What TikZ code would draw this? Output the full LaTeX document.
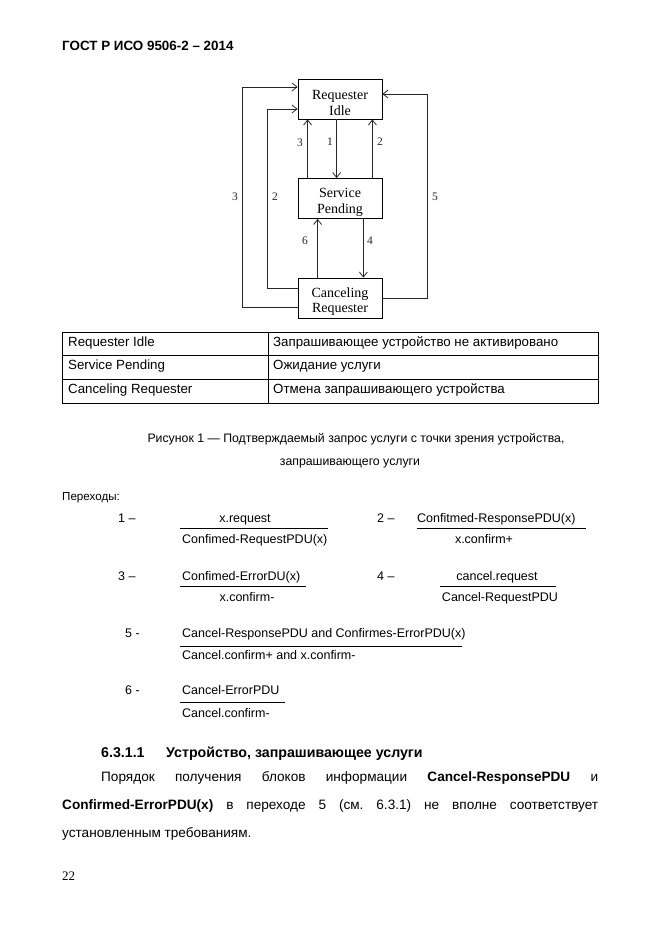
\documentclass[tikz,border=0pt]{standalone}
\usepackage{fontspec}
\setmainfont{Liberation Sans}
\newfontfamily\serifff{Liberation Serif}
\usetikzlibrary{arrows.meta}
\frenchspacing
\begin{document}
\begin{tikzpicture}[x=1pt,y=-1pt,
  txt/.style={inner sep=0, anchor=base west, font=\fontsize{12.5}{15}\selectfont},
  ctxt/.style={inner sep=0, anchor=base, font=\fontsize{12.5}{15}\selectfont},
  tbl/.style={txt, font=\fontsize{13.3}{15}\selectfont},
  box/.style={draw, line width=0.8pt, minimum width=84pt, minimum height=40pt, font=\serifff\fontsize{14}{15.5}\selectfont, align=center, inner sep=0},
  lbl/.style={font=\serifff\fontsize{11.5}{13}\selectfont, inner sep=0, text=black!85},
  arr/.style={-{Straight Barb[length=5pt,width=8pt]}, line width=0.8pt, draw=black!85},
  rule/.style={line width=0.8pt},
  fr/.style={line width=0.9pt}
]
\useasboundingbox (0,0) rectangle (662,935);
% header
\node[txt, font=\bfseries\fontsize{13.4}{15}\selectfont] (hdr) at (62,50.5) {ГОСТ Р ИСО 9506-2 – 2014};
% diagram
\node[box] (ri) at (340,99) {\rule{0pt}{17pt}Requester\\Idle};
\node[box] (sp) at (340,198.5) {\rule{0pt}{17pt}Service\\Pending};
\node[box] (cr) at (340,298) {\rule{0pt}{17pt}Canceling\\Requester};
\draw[arr] ([xshift=39pt]ri.south west) -- ([xshift=39pt]sp.north west);
\draw[arr] ([xshift=10pt]sp.north west) -- ([xshift=10pt]ri.south west);
\draw[arr] ([xshift=-10pt]sp.north east) -- ([xshift=-10pt]ri.south east);
\draw[arr] ([xshift=20pt]cr.north west) -- ([xshift=20pt]sp.south west);
\draw[arr] ([xshift=-19pt]sp.south east) -- ([xshift=-19pt]cr.north east);
\draw[arr] ([yshift=-9pt]cr.west) -- ++(-55,0) |- ([yshift=12pt]ri.west);
\draw[arr] ([yshift=10pt]cr.west) -- ++(-30,0) |- ([yshift=-10pt]ri.west);
\draw[arr] (cr.east) -- ++(45,0) |- ([yshift=5pt]ri.east);
\node[lbl] (l1) at (330,142) {1};
\node[lbl] (l3a) at (300,143) {3};
\node[lbl] (l2a) at (380,142) {2};
\node[lbl] (l3b) at (235,196.5) {3};
\node[lbl] (l2b) at (275,196.5) {2};
\node[lbl] (l5) at (435,196.5) {5};
\node[lbl] (l6) at (305,240.5) {6};
\node[lbl] (l4) at (370,240.5) {4};
% table
\draw[rule] (62,332) rectangle (598,403);
\draw[rule] (62,355) -- (598,355);
\draw[rule] (62,379) -- (598,379);
\draw[rule] (268,332) -- (268,403);
\node[tbl] (t11) at (68,346.5) {Requester Idle};
\node[tbl] (t21) at (68,369.5) {Service Pending};
\node[tbl] (t31) at (68,393.5) {Canceling Requester};
\node[tbl] (t12) at (273,346.5) {Запрашивающее устройство не активировано};
\node[tbl] (t22) at (273,369.5) {Ожидание услуги};
\node[tbl] (t32) at (273,393.5) {Отмена запрашивающего устройства};
% caption
\node[ctxt, font=\fontsize{12.3}{15}\selectfont] (cap1) at (356,442.5) {Рисунок 1 — Подтверждаемый запрос услуги с точки зрения устройства,};
\node[ctxt, font=\fontsize{12.3}{15}\selectfont] (cap2) at (350,465.5) {запрашивающего услуги};
\node[txt, font=\fontsize{11.6}{13}\selectfont] (per) at (62,500) {Переходы:};
% transitions
\node[txt] (n1) at (118,522.5) {1 –};
\node[ctxt] (a1) at (245,522.5) {x.request};
\draw[fr] (180,528.5) -- (328,528.5);
\node[txt] (b1) at (182,543.5) {Confimed-RequestPDU(x)};
\node[txt] (n2) at (377,522.5) {2 –};
\node[txt] (a2) at (417,522.5) {Confitmed-ResponsePDU(x)};
\draw[fr] (417,528.5) -- (586,528.5);
\node[ctxt] (b2) at (484,543.5) {x.confirm+};
\node[txt] (n3) at (118,580.5) {3 –};
\node[txt] (a3) at (182,580.5) {Confimed-ErrorDU(x)};
\draw[fr] (180,586.5) -- (306,586.5);
\node[ctxt] (b3) at (247,601.5) {x.confirm-};
\node[txt] (n4) at (377,580.5) {4 –};
\node[ctxt] (a4) at (497,580.5) {cancel.request};
\draw[fr] (440,586.5) -- (556,586.5);
\node[ctxt] (b4) at (500,601.5) {Cancel-RequestPDU};
\node[txt] (n5) at (125,637.5) {5 -};
\node[txt] (a5) at (182,637.5) {Cancel-ResponsePDU and Confirmes-ErrorPDU(x)};
\draw[fr] (180,646) -- (462,646);
\node[txt] (b5) at (182,659.5) {Cancel.confirm+ and x.confirm-};
\node[txt] (n6) at (125,694.5) {6 -};
\node[txt] (a6) at (182,694.5) {Cancel-ErrorPDU};
\draw[fr] (180,702.5) -- (285,702.5);
\node[txt] (b6) at (182,717.5) {Cancel.confirm-};
% section
\node[txt, font=\bfseries\fontsize{14.2}{16}\selectfont] (secn) at (101,757) {6.3.1.1};
\node[txt, font=\bfseries\fontsize{14.2}{16}\selectfont] (sect) at (166,757) {Устройство, запрашивающее услуги};
\node[txt, font=\fontsize{13.6}{16}\selectfont] (p1) at (101,781) {\makebox[497pt][s]{Порядок получения блоков информации \textbf{Cancel-ResponsePDU} и}};
\node[txt, font=\fontsize{13.6}{16}\selectfont] (p2) at (62,809) {\makebox[536pt][s]{\textbf{Confirmed-ErrorPDU(x)} в переходе 5 (см. 6.3.1) не вполне соответствует}};
\node[txt, font=\fontsize{13.6}{16}\selectfont] (p3) at (62,837) {установленным требованиям.};
\node[txt, font=\serifff\fontsize{13}{15}\selectfont] (pg) at (62,880) {22};
\end{tikzpicture}
\end{document}
